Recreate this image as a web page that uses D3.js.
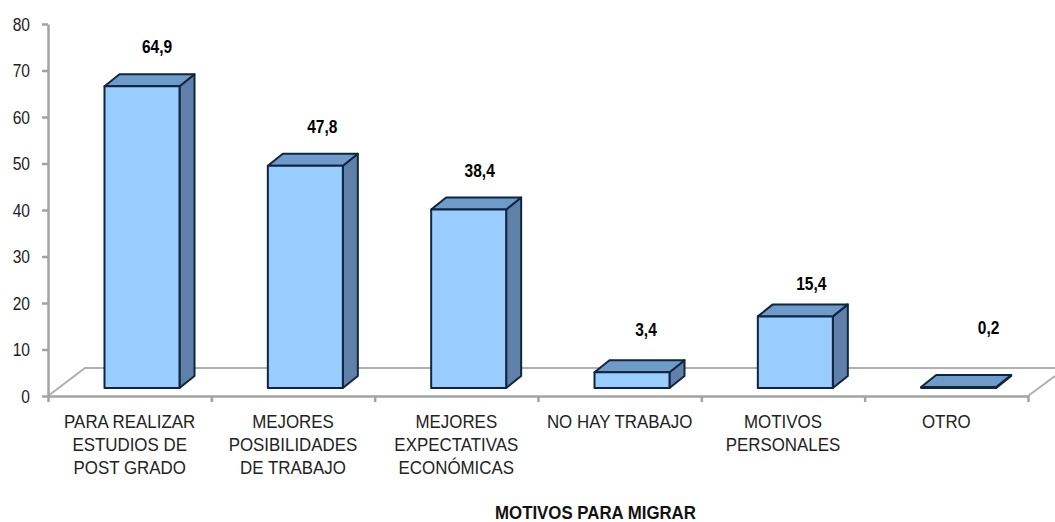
<!DOCTYPE html>
<html>
<head>
<meta charset="utf-8">
<script src="https://cdnjs.cloudflare.com/ajax/libs/d3/7.8.5/d3.min.js"></script>
<style>
  html, body { margin: 0; padding: 0; background: #fff; }
  svg { display: block; }
  text { font-family: "Liberation Sans", Arial, sans-serif; }
  .axis path, .axis line { stroke: #a3a3a3; stroke-width: 2.5; }
  .floor { stroke: #b0b0b0; stroke-width: 2; fill: none; }
  .bar-part { stroke: #0f2540; stroke-width: 2; stroke-linejoin: round; }
  .cat { font-size: 19px; fill: #222; }
  .val { font-size: 18.5px; font-weight: bold; fill: #000; }
</style>
</head>
<body>
<div id="vis"></div>
<script>
var categories = [
  ["PARA REALIZAR", "ESTUDIOS DE", "POST GRADO"],
  ["MEJORES", "POSIBILIDADES", "DE TRABAJO"],
  ["MEJORES", "EXPECTATIVAS", "ECONÓMICAS"],
  ["NO HAY TRABAJO"],
  ["MOTIVOS", "PERSONALES"],
  ["OTRO"]
];
var values = [64.9, 47.8, 38.4, 3.4, 15.4, 0.2];
var valueLabels = ["64,9", "47,8", "38,4", "3,4", "15,4", "0,2"];
var yTicks = [0, 10, 20, 30, 40, 50, 60, 70, 80];
var xTitle = "MOTIVOS PARA MIGRAR";

var width = 1055;
var height = 522;

// the 3d look: every bar is pushed up by floorLift and has a fake depth
var depthX = 15;
var depthY = 12;
var floorLift = 8;
var floorBackX = 37;
var floorBackY = 28;
// value labels sit by hand above each bar in the original
var labelGap = [40, 39, 39, 43, 33, 60];
var labelShift = [0, 2, -4, -1, 1, 15];

var svg = d3
  .select("#vis")
  .append("svg")
  .attr("width", width)
  .attr("height", height);

var y = d3.scaleLinear().domain([0, 80]).range([396, 24]);
var x = d3.scaleBand().domain(d3.range(categories.length)).range([48, 1028]);
var xEdges = d3.scaleLinear().domain([0, categories.length]).range([48, 1028]);

var barWidth = 75;
var barOffset = 56.5;

// floor
svg.append("path")
  .attr("class", "floor")
  .attr("d", "M48," + y(0) + "L" + (48 + floorBackX) + "," + (y(0) - floorBackY) + "L" + width + "," + (y(0) - floorBackY));
svg.append("path")
  .attr("class", "floor")
  .attr("d", "M1028," + y(0) + "L" + width + "," + (y(0) - 20));

// axes
svg.append("g")
  .attr("class", "axis")
  .attr("transform", "translate(48,0)")
  .call(d3.axisLeft(y).tickValues(yTicks).tickSize(6).tickSizeOuter(0))
  .call(function(g) {
    g.selectAll("text")
      .style("font-size", "19px")
      .style("font-family", "'Liberation Sans', Arial, sans-serif")
      .attr("fill", "#222")
      .attr("x", 0)
      .attr("transform", "translate(-18,0) scale(0.82,1)");
  });

svg.append("g")
  .attr("class", "axis")
  .attr("transform", "translate(0," + y(0) + ")")
  .call(d3.axisBottom(xEdges).tickValues(d3.range(categories.length + 1)).tickSize(6).tickSizeOuter(0).tickFormat(""));

// bars
var bars = svg.selectAll(".bar")
  .data(values)
  .enter()
  .append("g")
  .attr("class", "bar");

function pts(list) {
  return list.map(function(p) { return p.join(","); }).join(" ");
}

bars.append("polygon")
  .attr("class", "bar-part")
  .attr("fill", "#5f80a8")
  .attr("points", function(d, i) {
    var r = x(i) + barOffset + barWidth, t = y(d) - floorLift, b = y(0) - floorLift;
    return pts([[r, t], [r + depthX, t - depthY], [r + depthX, b - depthY], [r, b]]);
  });

bars.append("polygon")
  .attr("class", "bar-part")
  .attr("fill", "#6f9bcb")
  .attr("points", function(d, i) {
    var l = x(i) + barOffset, r = l + barWidth, t = y(d) - floorLift;
    return pts([[l, t], [l + depthX, t - depthY], [r + depthX, t - depthY], [r, t]]);
  });

bars.append("rect")
  .attr("class", "bar-part")
  .attr("fill", "#99ccff")
  .attr("x", function(d, i) { return x(i) + barOffset; })
  .attr("y", function(d) { return y(d) - floorLift; })
  .attr("width", barWidth)
  .attr("height", function(d) { return y(0) - y(d); });

// value labels
svg.selectAll(".val")
  .data(values)
  .enter()
  .append("text")
  .attr("class", "val")
  .attr("text-anchor", "middle")
  .attr("transform", function(d, i) {
    var lx = x(i) + barOffset + barWidth / 2 + depthX + labelShift[i];
    var ly = y(d) - floorLift - labelGap[i] + 6.5;
    return "translate(" + lx + "," + ly + ") scale(0.84,1)";
  })
  .text(function(d, i) { return valueLabels[i]; });

// category labels
var cats = svg.selectAll(".cat")
  .data(categories)
  .enter()
  .append("g")
  .attr("transform", function(d, i) {
    return "translate(" + (x(i) + x.bandwidth() / 2) + ",427.5) scale(0.89,1)";
  })
  .append("text")
  .attr("class", "cat")
  .attr("text-anchor", "middle");

cats.selectAll("tspan")
  .data(function(d) { return d; })
  .enter()
  .append("tspan")
  .attr("x", 0)
  .attr("dy", function(d, j) { return j ? 23.4 : 0; })
  .text(function(d) { return d; });

svg.append("text")
  .attr("transform", "translate(595.5,519) scale(0.935,1)")
  .attr("text-anchor", "middle")
  .style("font-size", "18px")
  .style("font-weight", "bold")
  .attr("fill", "#111")
  .text(xTitle);
</script>
</body>
</html>
